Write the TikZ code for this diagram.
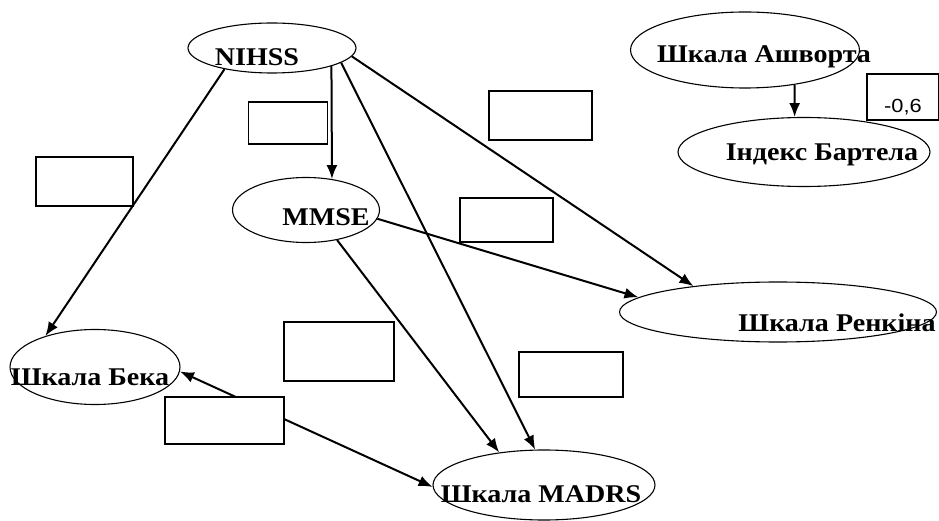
\documentclass[tikz,border=0pt]{standalone}
\usepackage{fontspec}
\setmainfont{Liberation Serif}
\newfontfamily\scalelabelfont{Liberation Serif}[FakeStretch=1.1]
\newfontfamily\valuelabelfont{Liberation Sans}[FakeStretch=1.15]
\usetikzlibrary{shapes.geometric,arrows.meta}
\tikzset{
% Two node styles for the diagram: scales and coefficient boxes
scale node/.style={ellipse,draw,line width=1.1pt,inner sep=0},
value box/.style={rectangle,draw,line width=1.3pt,fill=white,inner sep=0},
every label/.style={font=\scalelabelfont\bfseries\fontsize{25.5}{30}\selectfont,inner sep=0},
link/.style={line width=2pt,-{Latex[length=14pt,width=11pt]}}
}

\begin{document}
\begin{tikzpicture}[x=1pt,y=-1pt]
        \useasboundingbox (0,0) rectangle (939,521);
        % The scales
        \node(nihss)[scale node,minimum width=168,minimum height=50,
          label={[anchor=base,xshift=-15,yshift=-9]center:NIHSS}] at (272,48) {};
        \node(ashworth)[scale node,minimum width=229,minimum height=76,
          label={[anchor=base,xshift=19,yshift=-7]center:Шкала Ашворта}] at (745,50) {};
        \node(bartel)[scale node,minimum width=252,minimum height=69,
          label={[anchor=base,xshift=18,yshift=-3]center:Індекс Бартела}] at (804,152) {};
        \node(mmse)[scale node,minimum width=147,minimum height=65,
          label={[anchor=base,xshift=20,yshift=-7]center:MMSE}] at (306,210) {};
        \node(beck)[scale node,minimum width=170,minimum height=75,
          label={[anchor=base,xshift=-5,yshift=-10]center:Шкала Бека}] at (95,367) {};
        \node(madrs)[scale node,minimum width=222,minimum height=70,
          label={[anchor=base,xshift=-3,yshift=-9]center:Шкала MADRS}] at (544,485) {};
        \node(rankin)[scale node,minimum width=317,minimum height=60,
          label={[anchor=base,xshift=59,yshift=-11]center:Шкала Ренкіна}] at (778,312) {};
        % The links
        \draw[link] (nihss.204) -- (beck.148);
        \draw[link] (nihss.-17) -- (mmse.50);
        \draw[link] (nihss.-12) -- (madrs.104);
        \draw[link] (nihss.-6) -- (rankin.163);
        \draw[link] (mmse.-7) -- (rankin.174);
        \draw[link] (mmse.-44) -- (madrs.144);
        \draw[link,{Latex[length=14pt,width=11pt]}-{Latex[length=14pt,width=11pt]}] (beck.-3) -- (madrs.181);
        \draw[link] (ashworth.-35) -- (bartel.105);
        % Coefficient boxes
        \node(box1)[value box,minimum width=97,minimum height=49] at (84.5,181.5) {};
        \node(box2)[value box,minimum width=79,minimum height=42] at (288,123) {};
        \node(box3)[value box,minimum width=103,minimum height=49] at (540.5,115.5) {};
        \node(box4)[value box,minimum width=93,minimum height=44] at (506.5,220) {};
        \node(box5)[value box,minimum width=110,minimum height=59] at (339,351.5) {};
        \node(box6)[value box,minimum width=104,minimum height=45] at (571,374.5) {};
        \node(box7)[value box,minimum width=119,minimum height=47] at (224.5,420.5) {};
        \node(box8)[value box,minimum width=72,minimum height=46,
          label={[anchor=base,xshift=0,yshift=-10.5,font=\valuelabelfont\fontsize{19}{23}\selectfont]center:-0,6}] at (903,97) {};
\end{tikzpicture}
\end{document}
